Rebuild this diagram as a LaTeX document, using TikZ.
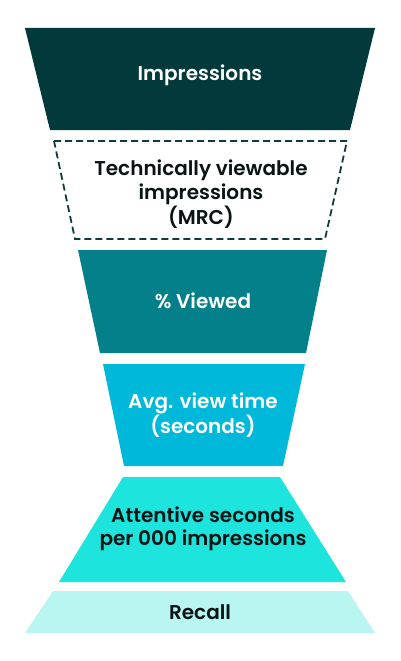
\documentclass[tikz,border=0pt]{standalone}
\usepackage{fontspec}
\setmainfont{Poppins}[BoldFont={Poppins SemiBold}]
\definecolor{c1}{HTML}{02393B}
\definecolor{cdash}{HTML}{0E3B3E}
\definecolor{c3}{HTML}{03808A}
\definecolor{c4}{HTML}{00B8DA}
\definecolor{c5}{HTML}{1DE5DE}
\definecolor{c6}{HTML}{B9F5F1}
\definecolor{ctext}{HTML}{0A1414}
\tikzset{
  lbl/.style={align=center, font=\fontsize{20}{23.5}\selectfont\bfseries, inner sep=0pt},
  dashbox/.style={draw=cdash, line width=1.8pt, dash pattern=on 7pt off 4pt}
}
\begin{document}
\begin{tikzpicture}[x=1pt,y=-1pt]
\useasboundingbox (0,0) rectangle (400,661);
\fill[white] (0,0) rectangle (400,661);
% 1 Impressions
\fill[c1] (25,28) -- (375,28) -- (350,130) -- (50,130) -- cycle;
\node[lbl, text=white] (imp) at (200,75) {Impressions};
% 2 Technically viewable
\draw[dashbox] (54,141) -- (347,141) -- (325,239) -- (75,239) -- cycle;
\node[lbl, text=ctext] (tech) at (201,194) {Technically viewable\\impressions\\(MRC)};
% 3 % Viewed
\fill[c3] (78,250) -- (327,250) -- (306,353) -- (100,353) -- cycle;
\node[lbl, text=white] (pv) at (203,301) {\% Viewed};
% 4 Avg view time
\fill[c4] (103,364) -- (305,364) -- (283,466) -- (124,466) -- cycle;
\node[lbl, text=white] (avg) at (203,415) {Avg. view time\\(seconds)};
% 5 Attentive
\fill[c5] (123,477) -- (280,477) -- (346,582) -- (59,582) -- cycle;
\node[lbl, text=ctext] (att) at (203,529) {Attentive seconds\\per 000 impressions};
% 6 Recall
\fill[c6] (53,591) -- (348,591) -- (375,633) -- (25,633) -- cycle;
\node[lbl, text=ctext] (rec) at (200,612) {Recall};
\end{tikzpicture}
\end{document}
